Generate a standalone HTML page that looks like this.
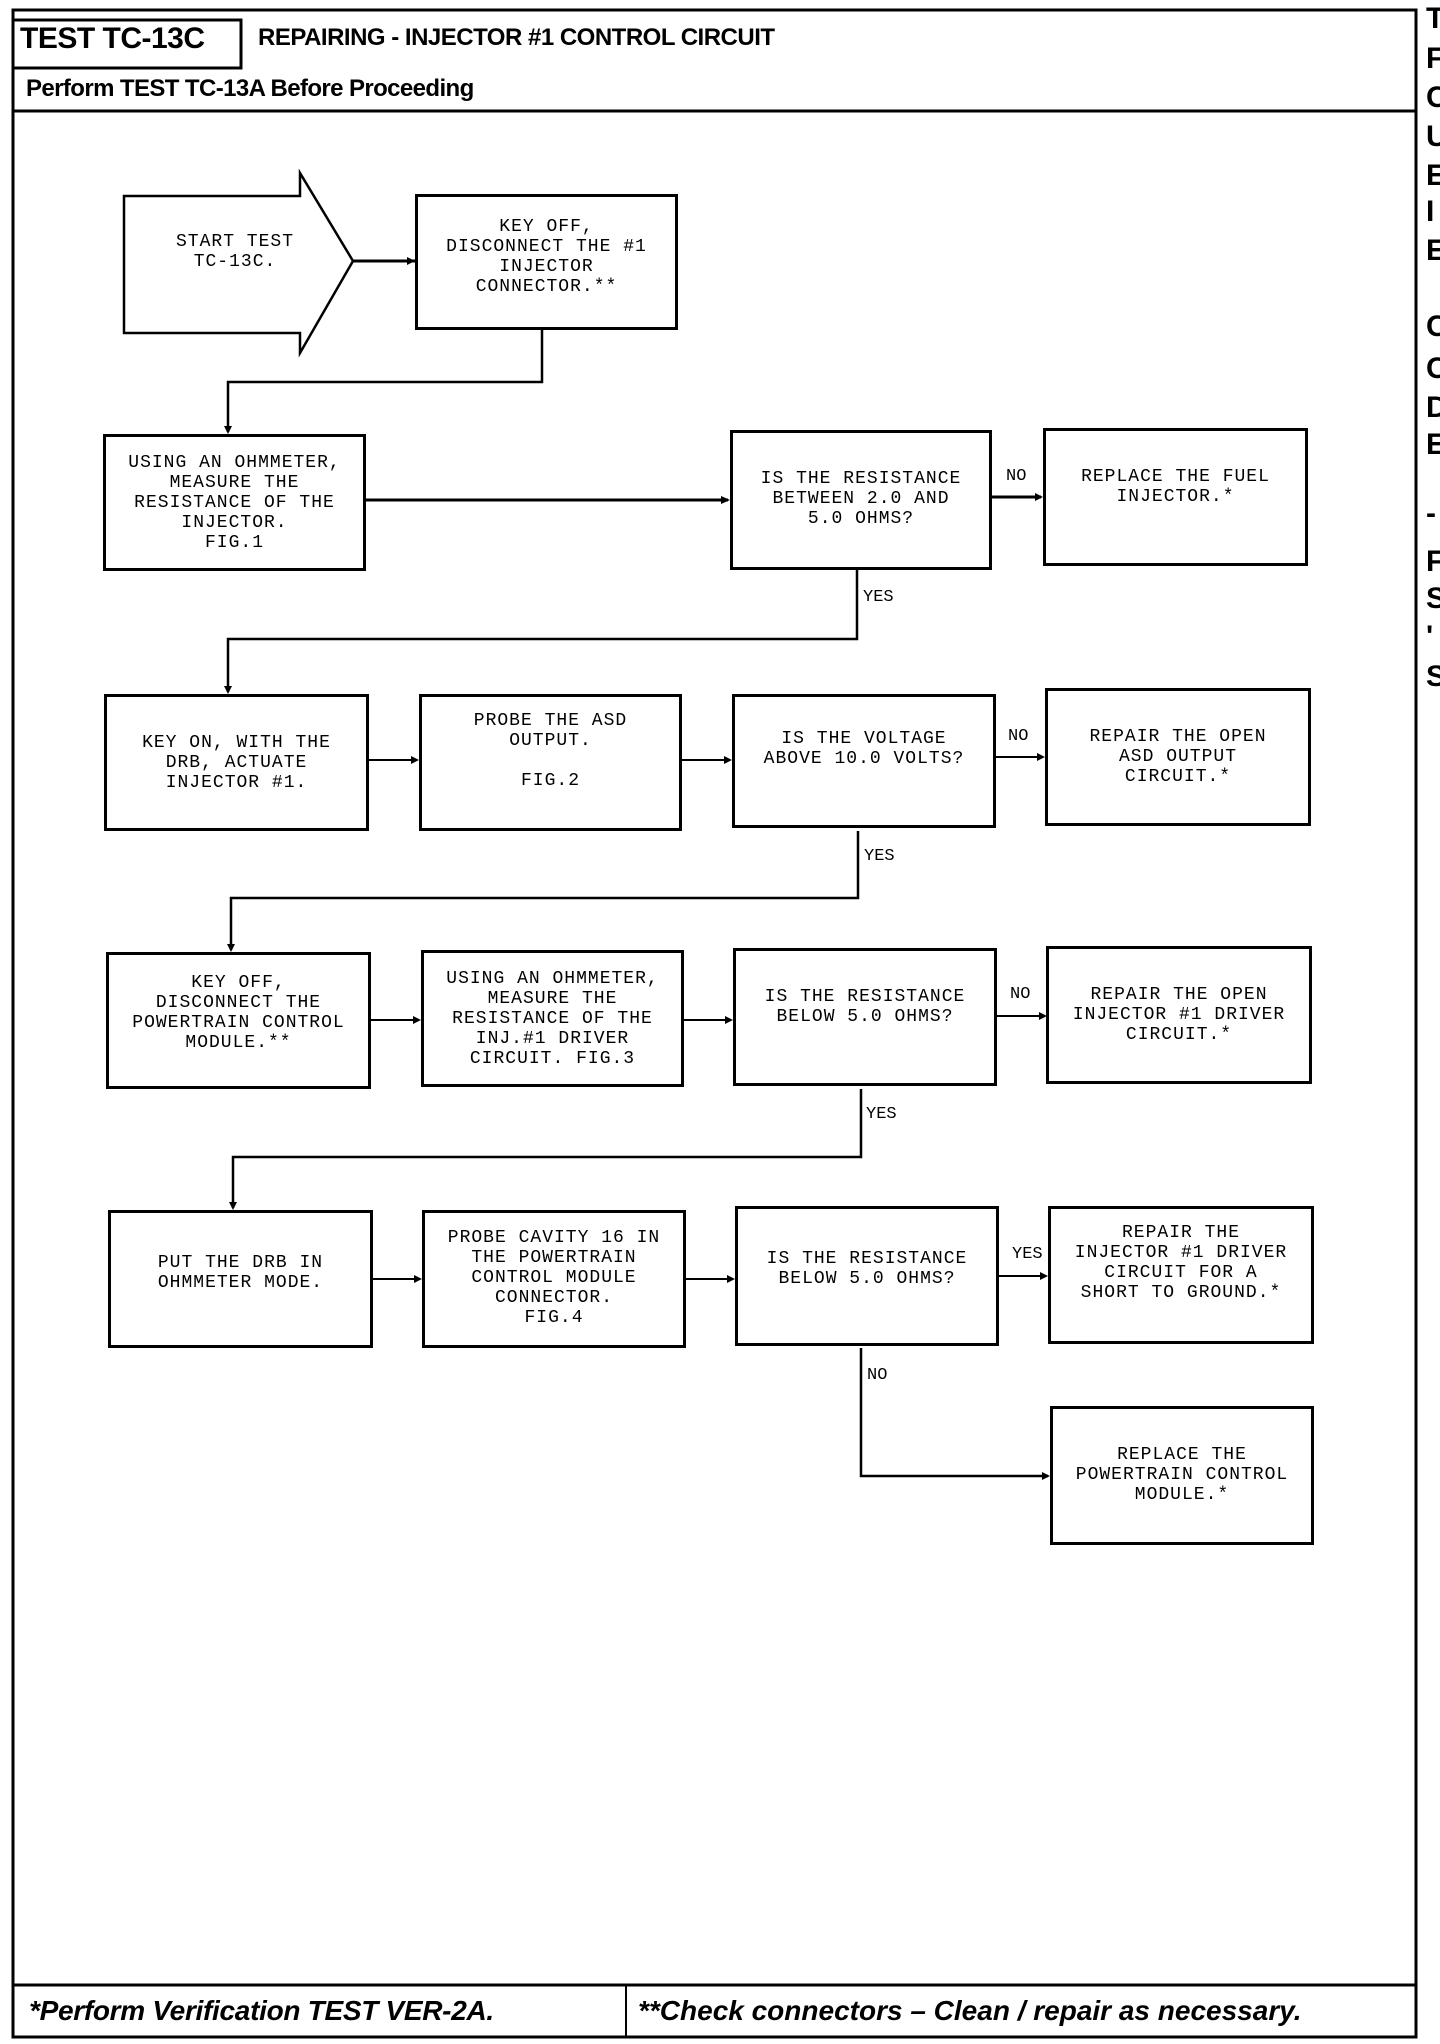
<!DOCTYPE html>
<html><head><meta charset="utf-8"><style>
body{margin:0;background:#fff;}
#pg{position:relative;width:1440px;height:2044px;overflow:hidden;background:#fff;font-family:"Liberation Sans",sans-serif;}
.b{position:absolute;border:3px solid #000;box-sizing:border-box;text-align:center;font-family:"Liberation Mono",monospace;font-size:18px;line-height:20px;letter-spacing:1px;white-space:pre;color:#000;}
.t{position:absolute;font-family:"Liberation Mono",monospace;font-size:18px;line-height:20px;letter-spacing:1px;text-align:center;white-space:pre;}
.lbl{position:absolute;font-family:"Liberation Mono",monospace;font-size:17px;}
.r{position:absolute;left:1426px;font-weight:bold;font-size:30px;}
</style></head><body><div id="pg">
<svg width="1440" height="2044" style="position:absolute;left:0;top:0">
<g fill="none" stroke="#000" stroke-width="3">
<rect x="13" y="10" width="1403" height="2027"/>
<rect x="13" y="20" width="228" height="48"/>
<line x1="13" y1="111" x2="1416" y2="111"/>
<line x1="13" y1="1985" x2="1416" y2="1985"/>
<line x1="626" y1="1985" x2="626" y2="2037" stroke-width="2"/>
<polygon points="124,196 300,196 300,173 353,261 300,353 300,333 124,333" stroke-width="2.5"/>
<polyline points="353,261 415,261"/>
<polyline points="542,330 542,382 228,382 228,432" stroke-width="2.5"/>
<polyline points="366,500 728,500"/>
<polyline points="992,497 1041,497"/>
<polyline points="857,570 857,639 228,639 228,692" stroke-width="2.5"/>
<polyline points="369,760 417,760" stroke-width="2"/>
<polyline points="682,760 730,760" stroke-width="2"/>
<polyline points="996,757 1043,757" stroke-width="2"/>
<polyline points="858,831 858,898 231,898 231,950" stroke-width="2.5"/>
<polyline points="371,1020 419,1020" stroke-width="2"/>
<polyline points="684,1020 731,1020" stroke-width="2"/>
<polyline points="997,1016 1045,1016" stroke-width="2"/>
<polyline points="861,1089 861,1157 233,1157 233,1208" stroke-width="2.5"/>
<polyline points="373,1279 420,1279" stroke-width="2"/>
<polyline points="686,1279 733,1279" stroke-width="2"/>
<polyline points="999,1276 1046,1276" stroke-width="2"/>
<polyline points="861,1348 861,1476 1048,1476" stroke-width="2.5"/>
</g>
<g fill="#000">
<polygon points="415,261 407,257 407,265"/>
<polygon points="228,434 224,426 232,426"/>
<polygon points="730,500 721,496 721,504"/>
<polygon points="1043,497 1035,493 1035,501"/>
<polygon points="228,694 224,686 232,686"/>
<polygon points="419,760 411,756 411,764"/>
<polygon points="732,760 724,756 724,764"/>
<polygon points="1045,757 1037,753 1037,761"/>
<polygon points="231,952 227,944 235,944"/>
<polygon points="421,1020 413,1016 413,1024"/>
<polygon points="733,1020 725,1016 725,1024"/>
<polygon points="1047,1016 1039,1012 1039,1020"/>
<polygon points="233,1210 229,1202 237,1202"/>
<polygon points="422,1279 414,1275 414,1283"/>
<polygon points="735,1279 727,1275 727,1283"/>
<polygon points="1048,1276 1040,1272 1040,1280"/>
<polygon points="1050,1476 1042,1472 1042,1480"/>
</g>
</svg>
<div style="position:absolute;left:20px;top:22px;font-weight:bold;font-size:30px;letter-spacing:-0.5px">TEST TC-13C</div>
<div style="position:absolute;left:258px;top:24px;font-weight:bold;font-size:24px;letter-spacing:-0.5px">REPAIRING - INJECTOR #1 CONTROL CIRCUIT</div>
<div style="position:absolute;left:26px;top:75px;font-weight:bold;font-size:24px;letter-spacing:-0.6px">Perform TEST TC-13A Before Proceeding</div>
<div style="position:absolute;left:29px;top:1995px;font-weight:bold;font-style:italic;font-size:28px;letter-spacing:-0.3px">*Perform Verification TEST VER-2A.</div>
<div style="position:absolute;left:638px;top:1995px;font-weight:bold;font-style:italic;font-size:28px;letter-spacing:0px">**Check connectors – Clean / repair as necessary.</div>

<div class="t" style="left:147px;width:176px;top:232px">START TEST
TC-13C.</div>
<div class="b" style="left:415px;top:194px;width:263px;height:136px;padding-top:20px">KEY OFF,
DISCONNECT THE #1
INJECTOR
CONNECTOR.**</div>

<div class="b" style="left:103px;top:434px;width:263px;height:137px;padding-top:16px">USING AN OHMMETER,
MEASURE THE
RESISTANCE OF THE
INJECTOR.
FIG.1</div>
<div class="b" style="left:730px;top:430px;width:262px;height:140px;padding-top:36px">IS THE RESISTANCE
BETWEEN 2.0 AND
5.0 OHMS?</div>
<div class="b" style="left:1043px;top:428px;width:265px;height:138px;padding-top:36px">REPLACE THE FUEL
INJECTOR.*</div>
<div class="lbl" style="left:1006px;top:467px">NO</div>
<div class="lbl" style="left:863px;top:588px">YES</div>

<div class="b" style="left:104px;top:694px;width:265px;height:137px;padding-top:36px">KEY ON, WITH THE
DRB, ACTUATE
INJECTOR #1.</div>
<div class="b" style="left:419px;top:694px;width:263px;height:137px;padding-top:14px">PROBE THE ASD
OUTPUT.

FIG.2</div>
<div class="b" style="left:732px;top:694px;width:264px;height:134px;padding-top:32px">IS THE VOLTAGE
ABOVE 10.0 VOLTS?</div>
<div class="b" style="left:1045px;top:688px;width:266px;height:138px;padding-top:36px">REPAIR THE OPEN
ASD OUTPUT
CIRCUIT.*</div>
<div class="lbl" style="left:1008px;top:727px">NO</div>
<div class="lbl" style="left:864px;top:847px">YES</div>

<div class="b" style="left:106px;top:952px;width:265px;height:137px;padding-top:18px">KEY OFF,
DISCONNECT THE
POWERTRAIN CONTROL
MODULE.**</div>
<div class="b" style="left:421px;top:950px;width:263px;height:137px;padding-top:16px">USING AN OHMMETER,
MEASURE THE
RESISTANCE OF THE
INJ.#1 DRIVER
CIRCUIT. FIG.3</div>
<div class="b" style="left:733px;top:948px;width:264px;height:138px;padding-top:36px">IS THE RESISTANCE
BELOW 5.0 OHMS?</div>
<div class="b" style="left:1046px;top:946px;width:266px;height:138px;padding-top:36px">REPAIR THE OPEN
INJECTOR #1 DRIVER
CIRCUIT.*</div>
<div class="lbl" style="left:1010px;top:985px">NO</div>
<div class="lbl" style="left:866px;top:1105px">YES</div>

<div class="b" style="left:108px;top:1210px;width:265px;height:138px;padding-top:40px">PUT THE DRB IN
OHMMETER MODE.</div>
<div class="b" style="left:422px;top:1210px;width:264px;height:138px;padding-top:15px">PROBE CAVITY 16 IN
THE POWERTRAIN
CONTROL MODULE
CONNECTOR.
FIG.4</div>
<div class="b" style="left:735px;top:1206px;width:264px;height:140px;padding-top:40px">IS THE RESISTANCE
BELOW 5.0 OHMS?</div>
<div class="b" style="left:1048px;top:1206px;width:266px;height:138px;padding-top:14px">REPAIR THE
INJECTOR #1 DRIVER
CIRCUIT FOR A
SHORT TO GROUND.*</div>
<div class="lbl" style="left:1012px;top:1245px">YES</div>
<div class="lbl" style="left:867px;top:1366px">NO</div>
<div class="b" style="left:1050px;top:1406px;width:264px;height:139px;padding-top:36px">REPLACE THE
POWERTRAIN CONTROL
MODULE.*</div>

<div class="r" style="top:2px">T</div>
<div class="r" style="top:42px">F</div>
<div class="r" style="top:81px">C</div>
<div class="r" style="top:120px">U</div>
<div class="r" style="top:159px">E</div>
<div class="r" style="top:195px">I</div>
<div class="r" style="top:234px">E</div>
<div class="r" style="top:310px">C</div>
<div class="r" style="top:352px">C</div>
<div class="r" style="top:391px">D</div>
<div class="r" style="top:428px">E</div>
<div class="r" style="top:497px">-</div>
<div class="r" style="top:545px">F</div>
<div class="r" style="top:582px">S</div>
<div class="r" style="top:620px">'</div>
<div class="r" style="top:660px">S</div>
</div></body></html>
